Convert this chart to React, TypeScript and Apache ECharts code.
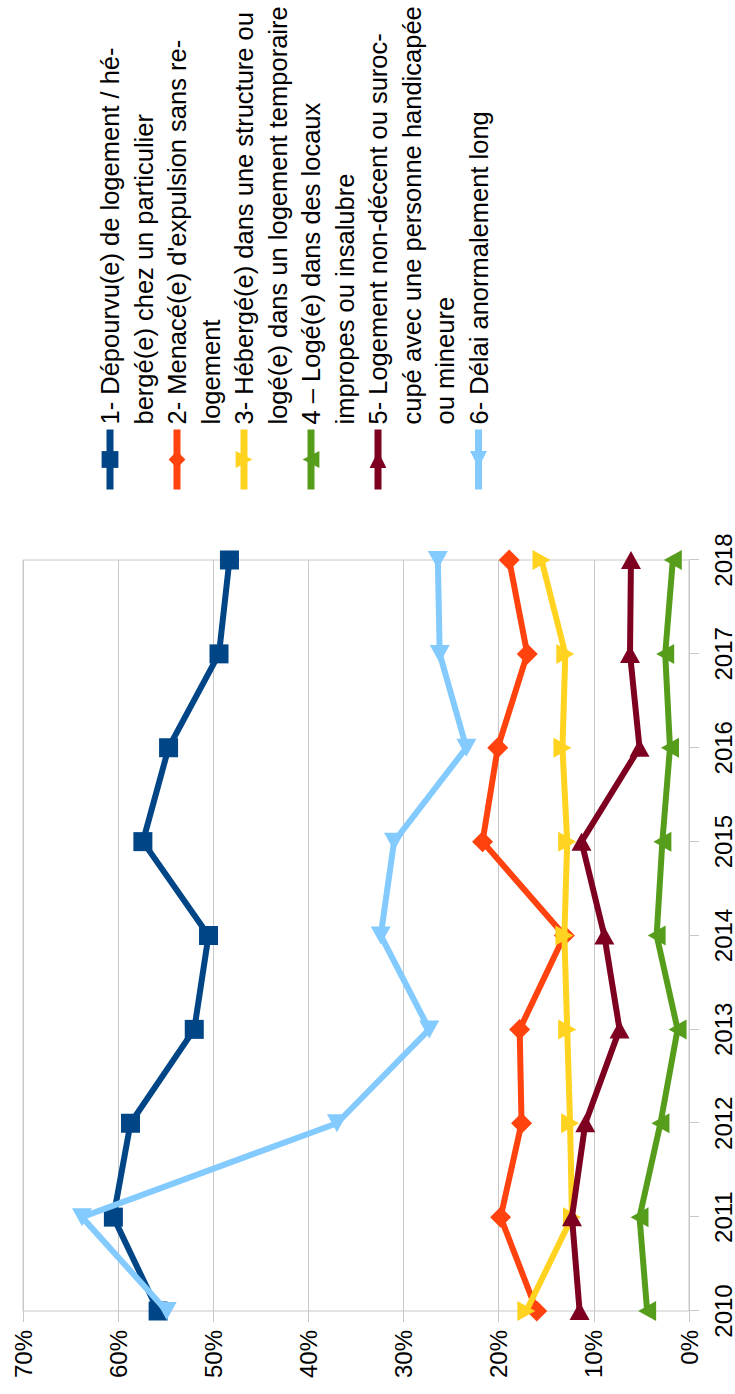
import React, { useEffect, useRef } from "react";
import * as echarts from "echarts";

const years = ["2010", "2011", "2012", "2013", "2014", "2015", "2016", "2017", "2018"];

const s1 = [55.8, 60.5, 58.7, 52.0, 50.5, 57.4, 54.7, 49.4, 48.3];
const s2 = [16.0, 19.8, 17.6, 17.8, 13.1, 21.7, 20.1, 17.0, 18.9];
const s3 = [17.1, 12.3, 12.5, 12.8, 13.1, 12.8, 13.3, 13.0, 15.5];
const s4 = [4.4, 5.2, 3.0, 1.2, 3.4, 2.8, 2.0, 2.5, 1.7];
const s5 = [11.5, 12.3, 10.9, 7.3, 8.9, 11.3, 5.2, 6.2, 6.1];
const s6 = [54.9, 63.8, 37.0, 27.3, 32.4, 31.0, 23.4, 26.2, 26.4];

const legend1 = ["1- Dépourvu(e) de logement / hé-", "bergé(e) chez un particulier"];
const legend2 = ["2- Menacé(e) d'expulsion sans re-", "logement"];
const legend3 = ["3- Hébergé(e) dans une structure ou", "logé(e) dans un logement temporaire"];
const legend4 = ["4 – Logé(e) dans des locaux", "impropes ou insalubre"];
const legend5 = ["5- Logement non-décent ou suroc-", "cupé avec une personne handicapée", "ou mineure"];
const legend6 = ["6- Délai anormalement long"];

const colors = ["#004586", "#ff420e", "#ffd320", "#579d1c", "#7e0021", "#83caff"];

const FONT = "'Liberation Sans', Arial, sans-serif";
const GRID = "#c8c8c8";
const LINE_H = 33.5;

const TRI_DOWN = "path://M0,0L20,0L10,18Z";
const TRI_UP = "path://M10,0L20,18L0,18Z";
const TRI_RIGHT = "path://M0,0L18,10L0,20Z";
const TRI_LEFT = "path://M18,0L18,20L0,10Z";

export default function App() {
  const ref = useRef<HTMLDivElement>(null);

  useEffect(() => {
    if (!ref.current) return;
    const chart = echarts.init(ref.current, undefined, { renderer: "svg" });

    const seriesDefs = [
      { lines: legend1, data: s1, symbol: "rect", size: 19 },
      { lines: legend2, data: s2, symbol: "diamond", size: 21 },
      { lines: legend3, data: s3, symbol: TRI_DOWN, size: [20, 18] },
      { lines: legend4, data: s4, symbol: TRI_UP, size: [20, 18] },
      { lines: legend5, data: s5, symbol: TRI_RIGHT, size: [18, 20] },
      { lines: legend6, data: s6, symbol: TRI_LEFT, size: [18, 20] },
    ];

    const firstLineIdx = [0, 2, 4, 6, 8, 11];
    const firstCenter = 110;

    const legends = seriesDefs.map((d, i) => {
      const n = d.lines.length;
      const center = firstCenter + LINE_H * firstLineIdx[i];
      const top = center - ((2 * n - 1) * LINE_H) / 2;
      const name = d.lines.join(" ");
      return {
        show: true,
        orient: "vertical",
        left: 901,
        top,
        padding: 0,
        itemWidth: 60,
        itemHeight: 21,
        selectedMode: false,
        data: [name],
        lineStyle: { width: 7, color: colors[i] },
        itemStyle: { color: colors[i] },
        formatter: () => "\n".repeat(n - 1) + d.lines.join("\n"),
        textStyle: {
          fontFamily: FONT,
          fontSize: 25.5,
          lineHeight: LINE_H,
          color: "#000",
          padding: [0, 0, 0, 0],
        },
      };
    });

    const series = seriesDefs.map((d, i) => ({
      type: "line",
      name: d.lines.join(" "),
      data: d.data,
      symbol: d.symbol,
      symbolSize: d.size,
      showAllSymbol: true,
      color: colors[i],
      lineStyle: { width: 6, color: colors[i] },
      itemStyle: { color: colors[i] },
      z: 2 + i,
    }));

    chart.setOption({
      animation: false,
      backgroundColor: "#fff",
      textStyle: { fontFamily: FONT },
      grid: {
        show: true,
        left: 83,
        top: 23,
        width: 751,
        height: 667,
        borderColor: GRID,
        borderWidth: 1,
        backgroundColor: "transparent",
      },
      legend: legends,
      xAxis: {
        type: "category",
        data: years,
        boundaryGap: false,
        axisLine: { show: true, lineStyle: { color: GRID, width: 1 } },
        axisTick: { show: true, length: 10, lineStyle: { color: GRID, width: 1 } },
        axisLabel: { fontSize: 24, color: "#000", margin: 22, fontFamily: FONT },
        splitLine: { show: false },
      },
      yAxis: {
        type: "value",
        min: 0,
        max: 70,
        interval: 10,
        axisLine: { show: false },
        axisTick: { show: true, length: 11, lineStyle: { color: GRID, width: 1 } },
        axisLabel: { fontSize: 24, color: "#000", margin: 19, fontFamily: FONT, formatter: "{value}%" },
        splitLine: { show: true, lineStyle: { color: GRID, width: 1 } },
      },
      series,
    });

    return () => chart.dispose();
  }, []);

  return (
    <div
      style={{
        position: "absolute",
        left: 0,
        top: 0,
        width: 735,
        height: 1394,
        overflow: "hidden",
        background: "#fff",
      }}
    >
      <div
        style={{
          position: "absolute",
          left: 0,
          top: 0,
          width: 1394,
          height: 735,
          transformOrigin: "0 0",
          transform: "translateY(1394px) rotate(-90deg)",
        }}
      >
        <div ref={ref} style={{ width: 1394, height: 735 }} />
      </div>
    </div>
  );
}
